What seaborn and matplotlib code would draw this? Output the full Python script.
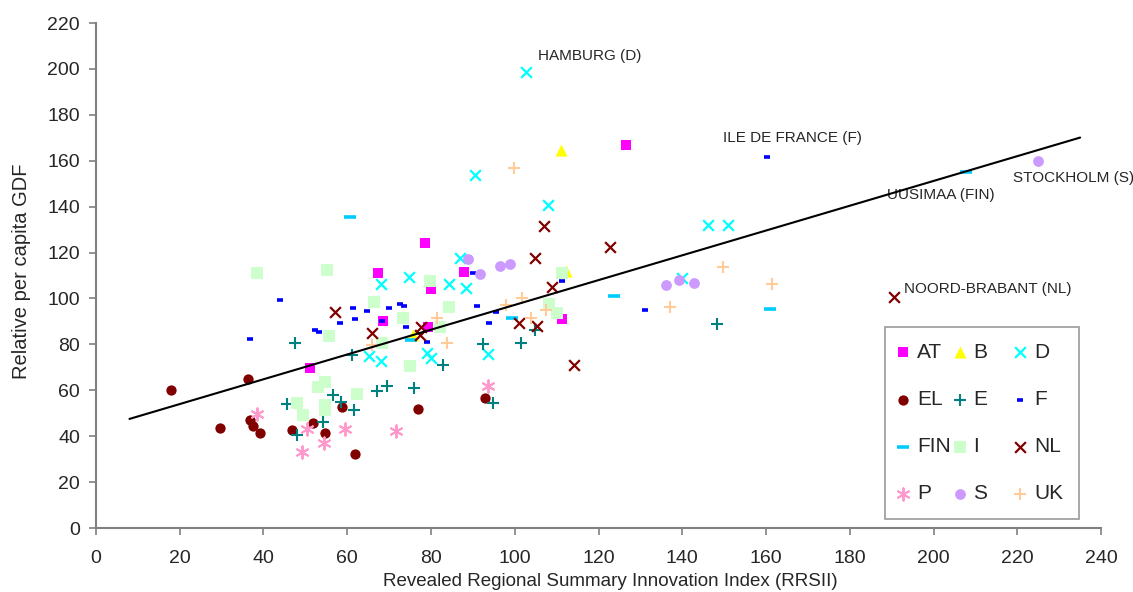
import matplotlib.pyplot as plt
import numpy as np
import pandas as pd
import seaborn as sns

# values
AT_x = [126.5, 78.6, 67.3, 87.9, 80.0, 68.5, 79.3, 111.2, 51.2]
AT_y = [167.0, 124.0, 111.0, 111.5, 104.0, 90.0, 87.6, 91.0, 69.7]
B_x = [111.1, 112.2, 75.8]
B_y = [164.6, 111.8, 84.3]
D_x = [102.7, 90.5, 108.0, 146.2, 151.0, 87.0, 74.8, 68.0, 84.2, 88.3, 140.0, 65.2, 68.0, 79.0, 80.0, 93.6]
D_y = [198.5, 153.8, 140.7, 131.8, 131.8, 117.8, 109.5, 106.3, 106.2, 104.6, 109.0, 74.8, 72.6, 76.2, 74.2, 76.0]
EL_x = [17.9, 36.4, 29.5, 36.8, 37.4, 39.1, 46.7, 51.8, 54.8, 58.8, 61.9, 76.8, 93.0]
EL_y = [60.2, 65.0, 43.6, 47.0, 44.5, 41.2, 42.8, 45.9, 41.3, 52.5, 32.2, 51.8, 56.8]
E_x = [47.6, 61.1, 45.7, 47.9, 54.3, 56.7, 58.4, 61.7, 67.0, 69.6, 76.0, 82.9, 92.3, 101.4, 104.9, 94.8, 148.3]
E_y = [80.7, 75.4, 54.0, 40.6, 46.4, 58.0, 55.0, 51.4, 59.8, 62.0, 61.2, 71.0, 80.2, 80.8, 86.2, 54.6, 89.0]
F_x = [36.8, 43.9, 52.3, 53.3, 58.3, 61.4, 61.8, 64.6, 68.3, 70.0, 72.6, 73.6, 74.0, 79.0, 90.0,
       91.1, 93.8, 95.6, 111.3, 131.1, 160.2]
F_y = [82.3, 99.3, 86.3, 85.4, 89.3, 96.0, 91.1, 94.5, 90.2, 96.0, 97.6, 96.8, 87.6, 81.0, 111.0,
       96.8, 89.3, 94.3, 107.4, 95.0, 161.6]
FIN_x = [60.7, 207.8, 123.7, 161.0, 99.4, 75.2]
FIN_y = [135.5, 155.0, 101.0, 95.3, 91.3, 81.8]
I_x = [38.5, 55.2, 55.7, 66.4, 79.8, 84.3, 73.3, 68.3, 82.2, 53.0, 54.7, 48.0, 49.4, 54.7, 54.7,
       62.3, 75.0, 111.3, 108.2, 110.0]
I_y = [111.0, 112.4, 83.7, 98.5, 107.6, 96.2, 91.4, 80.6, 87.6, 61.6, 63.8, 54.5, 49.4, 53.5, 51.4,
       58.4, 70.6, 111.0, 97.6, 93.6]
NL_x = [57.0, 65.8, 77.6, 77.4, 101.0, 105.3, 108.9, 104.8, 107.0, 122.7, 114.2, 190.6]
NL_y = [94.0, 85.0, 87.6, 84.2, 89.3, 88.0, 105.2, 117.6, 131.6, 122.4, 70.8, 100.6]
P_x = [38.5, 50.5, 49.2, 54.4, 59.5, 71.6, 93.6]
P_y = [49.8, 43.2, 33.3, 37.2, 43.3, 42.4, 61.9]
S_x = [225.0, 88.8, 91.6, 96.5, 98.9, 136.0, 139.2, 142.8]
S_y = [159.9, 117.4, 110.8, 114.0, 115.0, 105.9, 108.0, 106.7]
UK_x = [99.8, 149.7, 161.4, 81.4, 83.8, 98.0, 101.7, 103.9, 107.5, 137.0, 65.8]
UK_y = [157.0, 113.8, 106.3, 91.4, 80.8, 97.2, 100.0, 91.4, 95.0, 96.3, 79.6]

countries = ['AT', 'B', 'D', 'EL', 'E', 'F', 'FIN', 'I', 'NL', 'P', 'S', 'UK']
xs = [AT_x, B_x, D_x, EL_x, E_x, F_x, FIN_x, I_x, NL_x, P_x, S_x, UK_x]
ys = [AT_y, B_y, D_y, EL_y, E_y, F_y, FIN_y, I_y, NL_y, P_y, S_y, UK_y]

# trend line
trend_x = [8, 235]
trend_intercept = 43.2
trend_slope = 0.54

labels = ['HAMBURG (D)', 'ILE DE FRANCE (F)', 'UUSIMAA (FIN)', 'STOCKHOLM (S)', 'NOORD-BRABANT (NL)']
label_pts = [(102.7, 198.5), (160.2, 161.6), (207.8, 155.0), (225.0, 159.9), (190.6, 100.6)]

df = pd.concat([pd.DataFrame({'x': x, 'y': y, 'country': c}) for c, x, y in zip(countries, xs, ys)],
               ignore_index=True)

# marker styles like the excel chart
styles = {
    'AT':  dict(marker='s', color='#FF00FF', s=55, lw=0),
    'B':   dict(marker='^', color='#FFFF00', s=75, lw=0),
    'D':   dict(marker='x', color='#00FFFF', s=60, lw=1.6),
    'EL':  dict(marker='o', color='#800000', s=55, lw=0),
    'E':   dict(marker='+', color='#008080', s=75, lw=1.5),
    'F':   dict(marker='_', color='#0000FF', s=22, lw=2.6),
    'FIN': dict(marker='_', color='#00CCFF', s=80, lw=2.6),
    'I':   dict(marker='s', color='#CCFFCC', s=65, lw=0),
    'NL':  dict(marker='x', color='#800000', s=60, lw=1.6),
    'P':   dict(marker=(6, 2, 0), color='#FF99CC', s=80, lw=1.4),
    'S':   dict(marker='o', color='#CC99FF', s=60, lw=0),
    'UK':  dict(marker='+', color='#FFCC99', s=75, lw=1.5),
}

sns.set_style('ticks')
plt.rcParams['font.family'] = ['Liberation Sans', 'DejaVu Sans']

fig = plt.figure(figsize=(11.33, 5.92), dpi=100)
ax = fig.add_axes([0.0847, 0.1081, 0.8871, 0.853])

for c in countries:
    st = styles[c]
    sub = df[df['country'] == c]
    sns.scatterplot(data=sub, x='x', y='y', ax=ax, marker=st['marker'], color=st['color'],
                    s=st['s'], linewidth=st['lw'], edgecolor=st['color'] if st['lw'] == 0 else None,
                    label=c, legend=False)

tx = np.array(trend_x)
sns.lineplot(x=tx, y=trend_intercept + trend_slope * tx, ax=ax, color='black', linewidth=1.5, zorder=5)

offsets = [(8.6, 11.7), (-31.5, 13.7), (-57, -16.4), (-18.1, -12.2), (7.1, 5.8)]
for lab, pt, off in zip(labels, label_pts, offsets):
    ax.annotate(lab, xy=pt, xytext=off, textcoords='offset points', fontsize=11, va='center', ha='left')

ax.set_xlim(0, 240)
ax.set_ylim(0, 220)
ax.set_xticks(range(0, 241, 20))
ax.set_yticks(range(0, 221, 20))
ax.tick_params(labelsize=14, color='#808080', length=5, width=1.2)
ax.tick_params(axis='x', pad=11)
ax.tick_params(axis='y', pad=6.5)
for side in ['top', 'right']:
    ax.spines[side].set_visible(False)
for side in ['left', 'bottom']:
    ax.spines[side].set_color('#808080')
    ax.spines[side].set_linewidth(1.5)
ax.set_xlabel('Revealed Regional Summary Innovation Index (RRSII)', fontsize=13.5)
ax.set_ylabel('Relative per capita GDF', fontsize=14.5)
ax.xaxis.set_label_coords(0.5114, -0.089)
ax.yaxis.set_label_coords(-0.0647, 0.509)

# legend filled row by row like excel
handles, hlabels = ax.get_legend_handles_labels()
hmap = dict(zip(hlabels, handles))
order = ['AT', 'EL', 'FIN', 'P', 'B', 'E', 'I', 'S', 'D', 'F', 'NL', 'UK']
shown = [k + '    ' if k in ('B', 'E', 'I', 'S') else k for k in order]
leg = ax.legend([hmap[k] for k in order], shown, ncol=3, loc='lower right',
                bbox_to_anchor=(0.978, 0.018), borderaxespad=0, fontsize=15, frameon=True,
                fancybox=False, labelspacing=1.35, columnspacing=0.35, handletextpad=0.57,
                handlelength=0.2, borderpad=0.75)
leg.get_frame().set_edgecolor('#808080')
leg.get_frame().set_linewidth(1.2)

plt.savefig('out.png', dpi=100)
